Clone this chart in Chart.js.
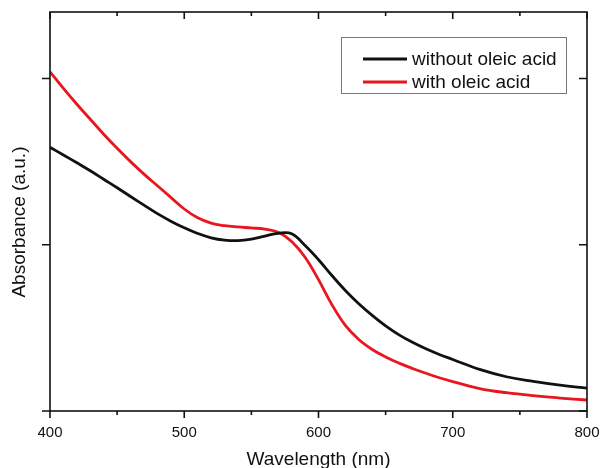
<!DOCTYPE html>
<html>
<head>
<meta charset="utf-8">
<script src="https://cdn.jsdelivr.net/npm/chart.js@4.4.1/dist/chart.umd.min.js"></script>
<style>
  html, body { margin: 0; padding: 0; background: #fff; }
  #wrap { width: 601px; height: 468px; }
</style>
</head>
<body>
<div id="wrap"><canvas id="chart"></canvas></div>
<script>
// wavelength in nm, absorbance in arbitrary units
const wavelength = [400, 410, 420, 430, 440, 450, 460, 470, 480, 490, 500, 510, 520, 530, 540, 550,
  560, 570, 580, 590, 600, 610, 620, 630, 640, 650, 660, 670, 680, 690, 700, 720, 740, 760, 780, 800];
const withoutOleic = [1.586, 1.54, 1.493, 1.445, 1.394, 1.343, 1.29, 1.238, 1.187, 1.142, 1.102, 1.068, 1.042,
  1.028, 1.025, 1.034, 1.052, 1.069, 1.066, 0.995, 0.91, 0.815, 0.725, 0.645, 0.575, 0.512, 0.458, 0.413,
  0.374, 0.34, 0.31, 0.25, 0.206, 0.178, 0.155, 0.138];
const withOleic = [2.04, 1.94, 1.845, 1.755, 1.665, 1.58, 1.50, 1.425, 1.355, 1.285, 1.215, 1.162, 1.13, 1.115,
  1.107, 1.101, 1.094, 1.075, 1.02, 0.925, 0.79, 0.64, 0.515, 0.43, 0.37, 0.325, 0.288, 0.256, 0.227, 0.2,
  0.177, 0.135, 0.11, 0.092, 0.078, 0.066];
const seriesLabels = ['without oleic acid', 'with oleic acid'];
const seriesColors = ['#111111', '#e8161e'];
const xTicks = [400, 500, 600, 700, 800];

const FONT = '"Liberation Sans", Arial, sans-serif';

const toPoints = (vals) => vals.map((v, i) => ({ x: wavelength[i], y: v }));

// frame, inward/outward tick marks and the boxed legend
const framePlugin = {
  id: 'frame',
  afterDraw(chart) {
    const { ctx, chartArea: a, scales: { x, y } } = chart;
    ctx.save();
    ctx.strokeStyle = '#111';
    ctx.lineWidth = 1.6;
    ctx.strokeRect(a.left, a.top, a.right - a.left, a.bottom - a.top);
    ctx.beginPath();
    x.ticks.forEach(t => {
      const px = x.getPixelForValue(t.value);
      const major = xTicks.includes(t.value);
      ctx.moveTo(px, a.bottom);
      ctx.lineTo(px, a.bottom + (major ? 7 : 4));
      ctx.moveTo(px, a.top);
      ctx.lineTo(px, a.top + (major ? 7 : 4));
    });
    y.ticks.filter(t => Number.isInteger(t.value)).forEach(t => {
      const py = y.getPixelForValue(t.value);
      ctx.moveTo(a.left - 8, py);
      ctx.lineTo(a.left, py);
      ctx.moveTo(a.right - 8, py);
      ctx.lineTo(a.right, py);
    });
    ctx.stroke();

    // legend
    ctx.strokeStyle = '#777';
    ctx.lineWidth = 1;
    ctx.strokeRect(341.5, 37.5, 225, 56);
    ctx.font = '19px ' + FONT;
    ctx.textBaseline = 'middle';
    ctx.fillStyle = '#111';
    chart.data.datasets.forEach((ds, i) => {
      const ly = 59 + i * 23;
      ctx.strokeStyle = ds.borderColor;
      ctx.lineWidth = 3;
      ctx.beginPath();
      ctx.moveTo(363, ly);
      ctx.lineTo(407, ly);
      ctx.stroke();
      ctx.fillText(ds.label, 412, ly + 1);
    });
    ctx.restore();
  }
};

new Chart(document.getElementById('chart'), {
  type: 'line',
  data: {
    datasets: [
      {
        label: seriesLabels[0],
        data: toPoints(withoutOleic),
        borderColor: seriesColors[0],
        borderWidth: 2.8,
        pointRadius: 0,
        tension: 0.4
      },
      {
        label: seriesLabels[1],
        data: toPoints(withOleic),
        borderColor: seriesColors[1],
        borderWidth: 2.8,
        pointRadius: 0,
        tension: 0.4
      }
    ]
  },
  options: {
    responsive: true,
    maintainAspectRatio: false,
    animation: false,
    layout: { padding: { top: 12, right: 14, left: 0, bottom: 0 } },
    plugins: {
      legend: { display: false },
      tooltip: { enabled: false }
    },
    scales: {
      x: {
        type: 'linear',
        min: 400,
        max: 800,
        grid: { display: false },
        border: { display: false },
        ticks: {
          stepSize: 50,
          autoSkip: false,
          maxRotation: 0,
          padding: 5,
          color: '#111',
          font: { family: FONT, size: 15 },
          callback: (v) => (xTicks.includes(v) ? String(v) : '')
        },
        title: {
          display: true,
          text: 'Wavelength (nm)',
          color: '#111',
          font: { family: FONT, size: 19 },
          padding: { top: 0, bottom: -3 }
        },
        afterFit: (scale) => {
          scale.height = 57;
          scale.paddingLeft = 0;
          scale.paddingRight = 0;
        }
      },
      y: {
        min: 0,
        max: 2.4,
        grid: { display: false },
        border: { display: false },
        ticks: { stepSize: 1, display: false },
        title: {
          display: true,
          text: 'Absorbance (a.u.)    ',
          color: '#111',
          font: { family: FONT, size: 19 },
          padding: { top: 8, bottom: 0 }
        },
        afterFit: (scale) => { scale.width = 50; }
      }
    }
  },
  plugins: [framePlugin]
});
</script>
</body>
</html>
